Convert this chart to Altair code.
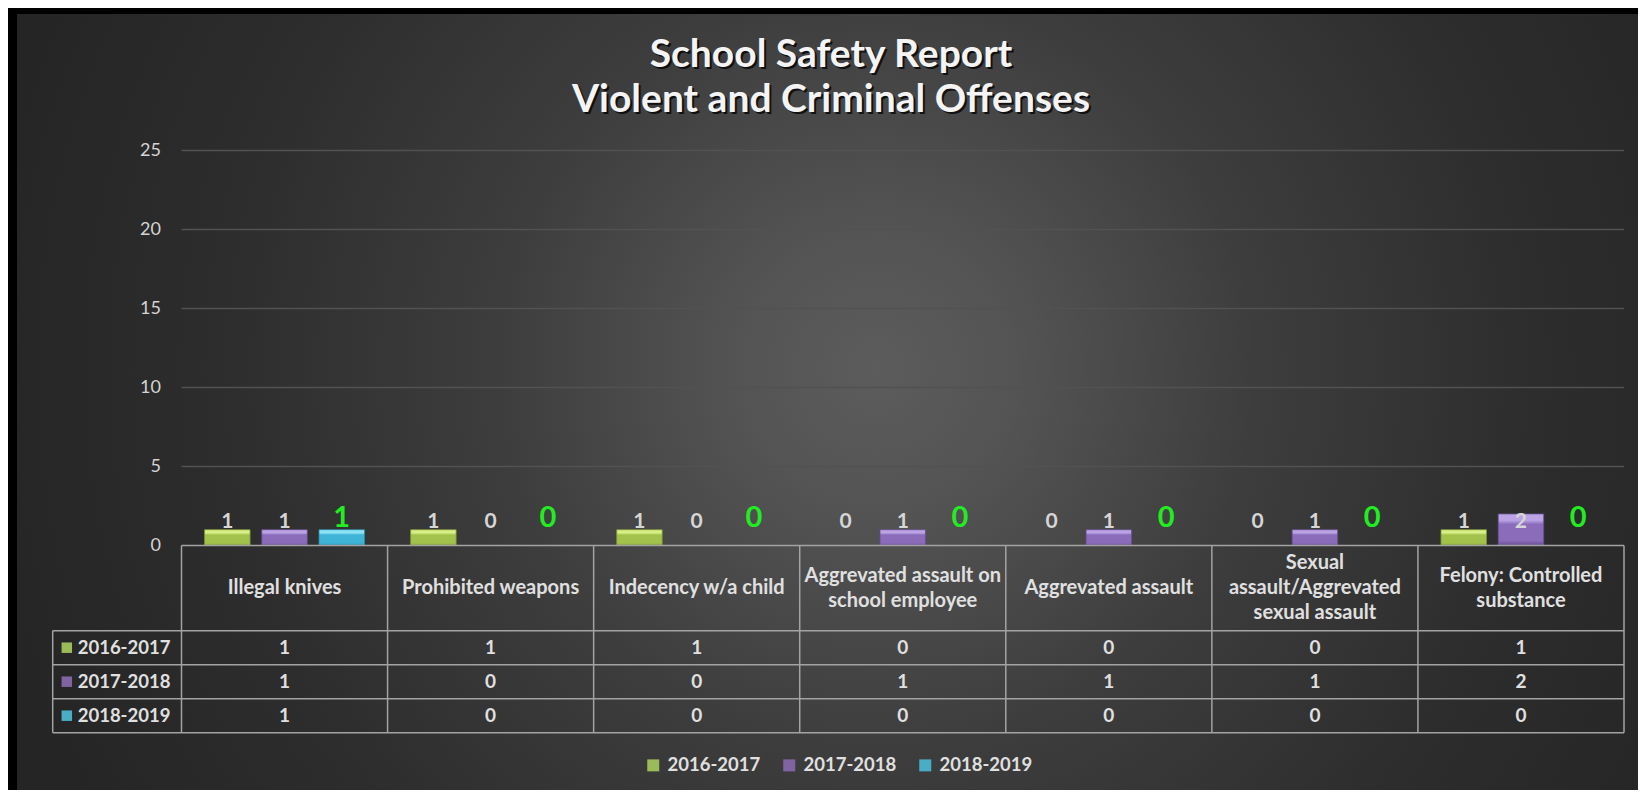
import altair as alt
import pandas as pd

# ---------------- data ----------------
categories = [
    "Illegal knives",
    "Prohibited weapons",
    "Indecency w/a child",
    "Aggrevated assault on\nschool employee",
    "Aggrevated assault",
    "Sexual\nassault/Aggrevated\nsexual assault",
    "Felony: Controlled\nsubstance",
]
series_names = ["2016-2017", "2017-2018", "2018-2019"]
counts_2016_2017 = [1, 1, 1, 0, 0, 0, 1]
counts_2017_2018 = [1, 0, 0, 1, 1, 1, 2]
counts_2018_2019 = [1, 0, 0, 0, 0, 0, 0]
y_ticks = [0, 5, 10, 15, 20, 25]
title_lines = ["School Safety Report", "Violent and Criminal Offenses"]
series_colors = ["#9BBB59", "#8064A2", "#4BACC6"]

rows = []
for s, vals in zip(series_names, [counts_2016_2017, counts_2017_2018, counts_2018_2019]):
    for c, v in zip(categories, vals):
        rows.append({"category": c, "series": s, "value": v})
long_df = pd.DataFrame(rows)
cat_df = pd.DataFrame({"category": categories})
ser_df = pd.DataFrame({"series": series_names})
tick_df = pd.DataFrame({"tick": y_ticks})
one_df = pd.DataFrame({"k": [0]})

# ---------------- layout / style ----------------
FONT = "Lato"
TXT = "#e0e0e0"
LINE = "#a3a3a3"
W, H = 1630, 782
X0, X1 = 173.5, 1616.0
Y0, YTOP = 537.5, 142.5
HDR_B = 622.7
ROW_B = 724.7
RH_L = 44.7
LH = 25

x_scale = alt.Scale(domain=categories, range=[X0, X1], paddingInner=0, paddingOuter=0)
xo_scale = alt.Scale(domain=series_names, paddingInner=0.205, paddingOuter=0.403)
y_scale = alt.Scale(domain=[0, 25], range=[Y0, YTOP], nice=False)
row_scale = alt.Scale(domain=series_names, range=[HDR_B, ROW_B], paddingInner=0, paddingOuter=0)

X = alt.X("category:N", scale=x_scale, axis=None)
XO = alt.XOffset("series:N", scale=xo_scale)


def lin_grad(stops):
    return {"gradient": "linear", "x1": 0, "y1": 0, "x2": 0, "y2": 1,
            "stops": [{"offset": o, "color": c} for o, c in stops]}


bg_grad = {
    "gradient": "radial",
    "x1": 0.53, "y1": 0.48, "r1": 0,
    "x2": 0.53, "y2": 0.48, "r2": 0.56,
    "stops": [
        {"offset": 0, "color": "#5c5c5c"},
        {"offset": 0.15, "color": "#545454"},
        {"offset": 0.42, "color": "#3d3d3d"},
        {"offset": 0.72, "color": "#2d2d2d"},
        {"offset": 1, "color": "#252525"},
    ],
}

background = alt.Chart(one_df).mark_rect(color=bg_grad).encode(
    x=alt.value(9), x2=alt.value(W), y=alt.value(6), y2=alt.value(H)
)

grid = alt.Chart(tick_df).transform_filter(alt.datum.tick > 0).mark_rule(
    color="#525252", strokeWidth=1.4
).encode(
    y=alt.Y("tick:Q", scale=y_scale, axis=None), x=alt.value(X0), x2=alt.value(X1)
)

tick_labels = alt.Chart(tick_df).mark_text(
    font=FONT, fontSize=18, color="#d4d4d4", align="right", baseline="middle"
).encode(
    y=alt.Y("tick:Q", scale=y_scale, axis=None), x=alt.value(153), text=alt.Text("tick:Q")
)

title_shadow = alt.Chart(one_df).mark_text(
    font=FONT, fontSize=39, fontWeight="bold", color="#000000", opacity=0.75,
    align="center", baseline="alphabetic", lineHeight=45, dx=2, dy=2
).encode(x=alt.value(823), y=alt.value(59), text=alt.value(title_lines))

title = alt.Chart(one_df).mark_text(
    font=FONT, fontSize=39, fontWeight="bold", color="#f4f4f4",
    align="center", baseline="alphabetic", lineHeight=45
).encode(x=alt.value(823), y=alt.value(59), text=alt.value(title_lines))

bar_styles = {
    "2016-2017": ("#d9ef86", "#a3c24c", "#7b9734"),
    "2017-2018": ("#bba3e6", "#8a6cbb", "#654c8f"),
    "2018-2019": ("#8ee3f6", "#3fb4d6", "#2a8aa8"),
}
bars = []
for s in series_names:
    light, mid, dark = bar_styles[s]
    g = lin_grad([(0, light), (0.2, light), (0.33, mid), (0.85, mid), (1, dark)])
    bars.append(
        alt.Chart(long_df)
        .transform_filter((alt.datum.series == s) & (alt.datum.value > 0))
        .mark_bar(color=g, stroke=dark, strokeWidth=0.8)
        .encode(x=X, xOffset=XO, y=alt.Y("value:Q", scale=y_scale, axis=None))
    )

gray_labels = alt.Chart(long_df).transform_filter(alt.datum.series != "2018-2019").mark_text(
    font=FONT, fontSize=21, fontWeight="bold", color="#d6d6d6", baseline="alphabetic", dy=-2
).encode(
    x=X, xOffset=XO,
    y=alt.YDatum(1, type="quantitative", scale=y_scale, axis=None),
    text=alt.Text("value:Q"),
)

green_labels = alt.Chart(long_df).transform_filter(alt.datum.series == "2018-2019").mark_text(
    font=FONT, fontSize=29, fontWeight="bold", color="#22ec22", baseline="alphabetic", dy=-3
).encode(
    x=X, xOffset=XO,
    y=alt.YDatum(1, type="quantitative", scale=y_scale, axis=None),
    text=alt.Text("value:Q"),
)

# ---------------- data table ----------------
v_rules = alt.Chart(cat_df).mark_rule(color=LINE, strokeWidth=1.5).encode(
    x=alt.X("category:N", scale=x_scale, axis=None, bandPosition=0),
    y=alt.value(Y0), y2=alt.value(ROW_B),
)
v_rule_last = alt.Chart(cat_df).transform_filter(
    alt.datum.category == categories[-1]
).mark_rule(color=LINE, strokeWidth=1.5).encode(
    x=alt.X("category:N", scale=x_scale, axis=None, bandPosition=1),
    y=alt.value(Y0), y2=alt.value(ROW_B),
)
v_rule_left = alt.Chart(one_df).mark_rule(color=LINE, strokeWidth=1.5).encode(
    x=alt.value(RH_L), y=alt.value(HDR_B), y2=alt.value(ROW_B)
)
h_rule_top = alt.Chart(one_df).mark_rule(color=LINE, strokeWidth=1.5).encode(
    y=alt.YDatum(0, type="quantitative", scale=y_scale, axis=None),
    x=alt.value(X0), x2=alt.value(X1),
)
h_rules = alt.Chart(ser_df).mark_rule(color=LINE, strokeWidth=1.5).encode(
    y=alt.Y("series:N", scale=row_scale, axis=None, bandPosition=0),
    x=alt.value(RH_L), x2=alt.value(X1),
)
h_rule_bottom = alt.Chart(ser_df).transform_filter(
    alt.datum.series == series_names[-1]
).mark_rule(color=LINE, strokeWidth=1.5).encode(
    y=alt.Y("series:N", scale=row_scale, axis=None, bandPosition=1),
    x=alt.value(RH_L), x2=alt.value(X1),
)

header_base = alt.Chart(cat_df).transform_calculate(
    nlines="length(split(datum.category, '\\n'))"
)
header_layers = []
for n in (1, 2, 3):
    header_layers.append(
        header_base.transform_filter(alt.datum.nlines == n).mark_text(
            font=FONT, fontSize=20, fontWeight="bold", color=TXT, align="center",
            baseline="middle", lineBreak="\n", lineHeight=LH, dy=-(n - 1) * LH / 2
        ).encode(x=X, y=alt.value((Y0 + HDR_B) / 2), text="category:N")
    )

cell_text = alt.Chart(long_df).mark_text(
    font=FONT, fontSize=19, fontWeight="bold", color=TXT, align="center", baseline="middle"
).encode(
    x=X, y=alt.Y("series:N", scale=row_scale, axis=None), text=alt.Text("value:Q")
)

row_labels = alt.Chart(ser_df).mark_text(
    font=FONT, fontSize=18.5, fontWeight="bold", color=TXT, align="left", baseline="middle"
).encode(
    x=alt.value(69.7), y=alt.Y("series:N", scale=row_scale, axis=None), text="series:N"
)

swatches = alt.Chart(ser_df).mark_square(size=110, opacity=1).encode(
    x=alt.value(58.8),
    y=alt.Y("series:N", scale=row_scale, axis=None),
    color=alt.Color(
        "series:N",
        scale=alt.Scale(domain=series_names, range=series_colors),
        legend=alt.Legend(
            orient="none", legendX=636, legendY=748, direction="horizontal", title=None,
            symbolType="square", symbolSize=144, symbolStrokeWidth=0, symbolOpacity=1,
            labelFont=FONT, labelFontSize=18.5, labelFontWeight="bold", labelColor=TXT,
            labelOffset=5, columnPadding=19, padding=0,
        ),
    ),
)

chart = alt.layer(
    background, grid, tick_labels, title_shadow, title,
    *bars, gray_labels, green_labels,
    v_rules, v_rule_last, v_rule_left, h_rule_top, h_rules, h_rule_bottom,
    *header_layers, cell_text, row_labels, swatches,
).resolve_scale(y="independent").properties(
    width=W, height=H, padding=0,
    autosize=alt.AutoSizeParams(type="none"),
    background="#000000",
).configure_view(stroke=None)

chart.save("out.html", embed_options={"renderer": "svg", "actions": False})
